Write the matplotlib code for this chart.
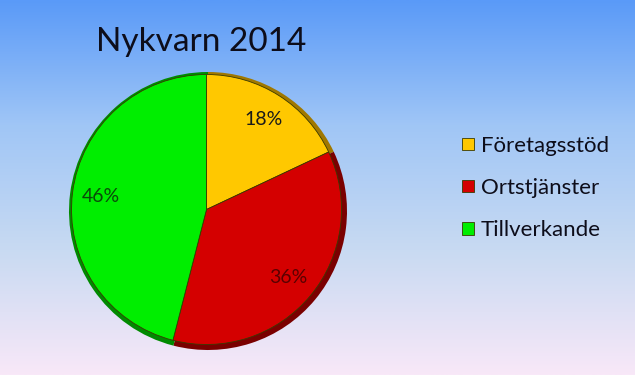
import matplotlib.pyplot as plt
import numpy as np
from matplotlib.colors import LinearSegmentedColormap

title = 'Nykvarn 2014'
categories = ['Företagsstöd', 'Ortstjänster', 'Tillverkande']
shares = [18, 36, 46]
colors = ['#ffc800', '#d40000', '#00ee00']
dark_colors = ['#a07800', '#7a0000', '#008a00']
label_colors = ['#1a1a1a', '#5a0000', '#0a4a0a']

plt.rcParams['font.family'] = ['Lato', 'DejaVu Sans']

W, H = 635, 375
fig = plt.figure(figsize=(W / 100, H / 100), dpi=100)
ax = fig.add_axes([0, 0, 1, 1])
ax.set_xlim(0, W)
ax.set_ylim(0, H)
ax.set_aspect('equal')
ax.axis('off')

# background gradient, blue on top to pale pink at the bottom
bg = LinearSegmentedColormap.from_list('bg', ['#f8e8f8', '#c8daf2', '#a0c6f6', '#5a9af8'])
grad = np.linspace(0, 1, 256).reshape(-1, 1)
ax.imshow(grad, cmap=bg, extent=[0, W, 0, H], origin='lower', aspect='auto', zorder=0)

cx, cy, r = 208, 375 - 211, 139

# dark rim underneath to fake the bevel
ax.pie(shares, colors=dark_colors, startangle=90, counterclock=False,
       center=(cx, cy), radius=r, frame=True,
       wedgeprops=dict(linewidth=0, zorder=1))
wedges, _, autotexts = ax.pie(
    shares, colors=colors, startangle=90, counterclock=False,
    center=(cx - 1.5, cy + 1.5), radius=r - 4, frame=True,
    autopct='%.0f%%', pctdistance=0.79,
    wedgeprops=dict(edgecolor='#3a3a00', linewidth=0.6, zorder=2),
    textprops=dict(fontsize=14))
for t, c in zip(autotexts, label_colors):
    t.set_color(c)

ax.set_xlim(0, W)
ax.set_ylim(0, H)
ax.axis('off')

ax.text(201, 375 - 42, title, fontsize=24, color='#0d0d1a', ha='center', va='center')

ax.legend(wedges, categories, frameon=False, fontsize=16,
          handlelength=0.54, handleheight=0.5, handletextpad=0.3,
          labelspacing=1.0, loc='center left', borderpad=0, borderaxespad=0,
          bbox_to_anchor=(462 / W, 1 - 188 / H), labelcolor='#0d0d1a')

fig.savefig('out.png', dpi=100)
